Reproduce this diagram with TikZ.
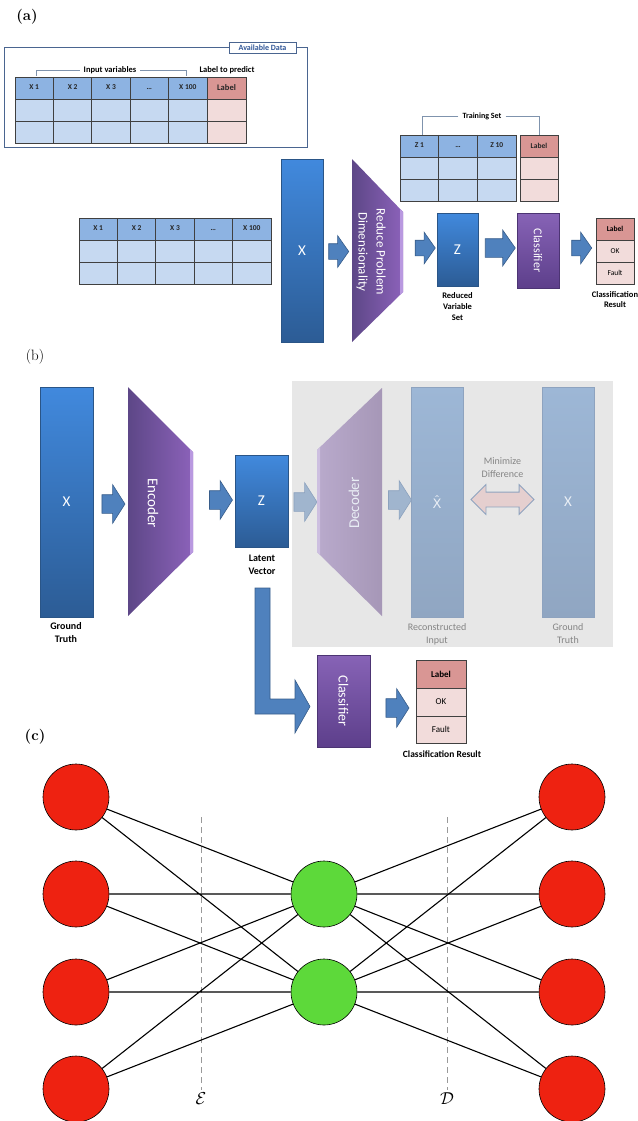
\documentclass[tikz,border=0pt]{standalone}
\usepackage{fontspec}
\newfontfamily\calfont{Carlito}
\newfontfamily\dejafont{DejaVu Sans}
\usetikzlibrary{positioning,shapes.arrows}

% colours
\definecolor{bartop}{HTML}{4189DD}
\definecolor{barbot}{HTML}{2C5C95}
\definecolor{barline}{HTML}{2A5587}
\definecolor{purleft}{HTML}{5D4787}
\definecolor{purright}{HTML}{8C62BA}
\definecolor{puredge}{HTML}{B999E0}
\definecolor{purtop}{HTML}{8763B6}
\definecolor{purbot}{HTML}{5D3F8B}
\definecolor{purline}{HTML}{4C3473}
\definecolor{arrfill}{HTML}{4F81BD}
\definecolor{arrline}{HTML}{385D8A}
\definecolor{hdrblue}{HTML}{8DB3E2}
\definecolor{bodyblue}{HTML}{C6D9F1}
\definecolor{hdrred}{HTML}{D99694}
\definecolor{bodyred}{HTML}{F2DCDB}
\definecolor{frameblue}{HTML}{4A6590}
\definecolor{tagblue}{HTML}{2F5597}
\definecolor{bracketgray}{HTML}{7F93AD}
\definecolor{panelgray}{HTML}{E7E7E7}
\definecolor{fadetop}{HTML}{9DB7D6}
\definecolor{fadebot}{HTML}{90A6C2}
\definecolor{fadeline}{HTML}{8EA3BF}
\definecolor{fadetext}{HTML}{E9EEF5}
\definecolor{fadearrow}{HTML}{A0B5CE}
\definecolor{fadearrline}{HTML}{8CA2BE}
\definecolor{fadepurl}{HTML}{B9AACC}
\definecolor{fadepurr}{HTML}{A697B7}
\definecolor{fadepuredge}{HTML}{CDBFE0}
\definecolor{diffpink}{HTML}{E5CFCF}
\definecolor{graytext}{HTML}{858585}
\definecolor{nodered}{HTML}{EE2211}
\definecolor{nodegreen}{HTML}{5DD93A}

\tikzset{
  panel/.style={font=\fontsize{15}{15}\selectfont\bfseries},
  bar/.style={top color=bartop, bottom color=barbot, draw=barline, line width=0.5pt,
    text=white, font=\calfont\fontsize{15}{15}\selectfont},
  fadebar/.style={top color=fadetop, bottom color=fadebot, draw=fadeline, line width=0.5pt,
    text=fadetext, font=\calfont\fontsize{15}{15}\selectfont},
  classbox/.style={top color=purtop, bottom color=purbot, draw=purline, line width=0.5pt},
  boxtext/.style={text=white, font=\calfont\fontsize{#1}{#1}\selectfont},
  blockarrow/.style={single arrow, fill=arrfill, draw=arrline, line width=0.6pt,
    inner xsep=0pt, inner ysep=7.5pt, single arrow head extend=8pt,
    single arrow tip angle=110, minimum height=20pt},
  bigarrow/.style={blockarrow, inner ysep=9pt, single arrow head extend=10pt,
    single arrow tip angle=115, minimum height=23pt},
  fadearrow/.style={bigarrow, fill=fadearrow, draw=fadearrline},
  cell/.style={draw=black!75, line width=0.7pt},
  cellhead/.style={font=\calfont\bfseries\fontsize{7.5}{8}\selectfont, text=black!85},
  rescell/.style={draw=black!75, line width=0.7pt, fill=bodyred, outer sep=0pt,
    font=\calfont\fontsize{#1}{#1}\selectfont},
  bracket/.style={draw=bracketgray, line width=0.6pt},
  captionbold/.style={font=\calfont\bfseries\fontsize{#1}{#1}\selectfont, align=center},
  captiongray/.style={font=\calfont\fontsize{10}{13}\selectfont, align=center, text=graytext},
  neuron/.style={circle, draw=black, line width=0.6pt, minimum size=66pt, inner sep=0pt},
  link/.style={line width=1.1pt},
  sep/.style={draw=black!40, line width=0.8pt, dash pattern=on 6pt off 4pt}
}

\begin{document}
\begin{tikzpicture}[x=1pt, y=-1pt]
    \useasboundingbox (0,0) rectangle (637,1121);

    % (a) dimensionality reduction
    \node[panel] (pa) at (27,17) {(a)};
    \draw[draw=frameblue, line width=1pt] (4,48) rectangle (307,147);
    \node[draw=frameblue, fill=white, line width=0.7pt, minimum width=67pt, minimum height=11pt,
      inner sep=0pt, text=tagblue, font=\calfont\bfseries\fontsize{8}{8}\selectfont]
      (avail) at (262.5,48) {Available Data};
    \fill[hdrblue] (15,77) rectangle (207,99);
    \fill[bodyblue] (15,99) rectangle (207,143);
    \fill[hdrred] (207,77) rectangle (246,99);
    \fill[bodyred] (207,99) rectangle (246,143);
    \draw[cell] (15,77) rectangle (246,143) (15,99) -- (246,99) (15,121) -- (246,121);
    \draw[cell] (53.4,77) -- (53.4,143) (91.8,77) -- (91.8,143) (130.2,77) -- (130.2,143)
      (168.6,77) -- (168.6,143) (207,77) -- (207,143);
    \node[cellhead] (ax1) at (34.2,87.5) {X 1};
    \node[cellhead] (ax2) at (72.6,87.5) {X 2};
    \node[cellhead] (ax3) at (111,87.5) {X 3};
    \node[cellhead] (axd) at (149.4,88.5) {\ldots};
    \node[cellhead] (ax100) at (187.8,87.5) {X 100};
    \node[cellhead, font=\calfont\bfseries\fontsize{8.5}{8.5}\selectfont] (alab) at (226.5,88) {Label};
    \node[captionbold=8.5, inner sep=4pt] (inputs) at (110,70) {Input variables};
    \draw[bracket] (inputs.west) -| (36,76);
    \draw[bracket] (inputs.east) -| (186,76);
    \node[captionbold=8.5] (topredict) at (227,70) {Label to predict};

    % input table and pipeline
    \fill[hdrblue] (79,218) rectangle (271,240);
    \fill[bodyblue] (79,240) rectangle (271,284);
    \draw[cell] (79,218) rectangle (271,284) (79,240) -- (271,240) (79,262) -- (271,262);
    \draw[cell] (117.4,218) -- (117.4,284) (155.8,218) -- (155.8,284) (194.2,218) -- (194.2,284)
      (232.6,218) -- (232.6,284);
    \node[cellhead] (bx1) at (98.2,228.5) {X 1};
    \node[cellhead] (bx2) at (136.6,228.5) {X 2};
    \node[cellhead] (bx3) at (175,228.5) {X 3};
    \node[cellhead] (bxd) at (213.4,229.5) {\ldots};
    \node[cellhead] (bx100) at (251.8,228.5) {X 100};

    \node[bar, minimum width=42pt, minimum height=183pt] (xa) at (302,250.5) {X};
    \node[blockarrow] (arra1) at (336,251.5) {};
    \shade[left color=purleft, right color=purright] (352,159) -- (403,212) -- (403,292) -- (352,342) -- cycle;
    \fill[puredge] (400,209) -- (403,212) -- (403,292) -- (400,295) -- cycle;
    \node[boxtext=13, rotate=-90, align=center, font=\calfont\fontsize{13}{18}\selectfont]
      (reduce) at (371,252) {Reduce Problem\\Dimensionality};
    \node[blockarrow] (arra2) at (422.5,248) {};
    \node[bar, minimum width=41pt, minimum height=73pt] (za) at (457.5,249.5) {Z};
    \node[captionbold=9, font=\calfont\bfseries\fontsize{8.5}{11}\selectfont]
      (reduced) at (457.5,307) {Reduced\\Variable\\Set};
    \node[blockarrow, inner ysep=9pt, single arrow head extend=8.5pt, minimum height=30pt] (arra3) at (497,248) {};
    \node[classbox, minimum width=42pt, minimum height=75pt] (clsa) at (538,250.5) {};
    \node[boxtext=12, rotate=-90] (clsatext) at (clsa) {Classifier};
    \node[blockarrow] (arra4) at (579,248) {};
    \node[rescell=7.5, fill=hdrred, font=\calfont\bfseries\fontsize{7.5}{8}\selectfont,
      minimum width=38pt, minimum height=22pt] (resalab) at (615,229) {Label};
    \node[rescell=7.5, minimum width=38pt, minimum height=22pt, below=0pt of resalab] (resaok) {OK};
    \node[rescell=7.5, minimum width=38pt, minimum height=22pt, below=0pt of resaok] (resafault) {Fault};
    \node[captionbold=8.5, font=\calfont\bfseries\fontsize{8.5}{10.5}\selectfont]
      (resacap) at (615,299.5) {Classification\\Result};

    % training set
    \fill[hdrblue] (400,135) rectangle (516,157);
    \fill[bodyblue] (400,157) rectangle (516,201);
    \draw[cell] (400,135) rectangle (516,201) (400,157) -- (516,157) (400,179) -- (516,179);
    \draw[cell] (438.7,135) -- (438.7,201) (477.3,135) -- (477.3,201);
    \fill[hdrred] (520,135) rectangle (558,157);
    \fill[bodyred] (520,157) rectangle (558,201);
    \draw[cell] (520,135) rectangle (558,201) (520,157) -- (558,157) (520,179) -- (558,179);
    \node[cellhead] (tz1) at (419.3,145.5) {Z 1};
    \node[cellhead] (tzd) at (458,146.5) {\ldots};
    \node[cellhead] (tz10) at (496.7,145.5) {Z 10};
    \node[cellhead] (tlab) at (539,145.5) {Label};
    \node[captionbold=8, inner sep=4pt] (trainset) at (482,116) {Training Set};
    \draw[bracket] (trainset.west) -| (422,135);
    \draw[bracket] (trainset.east) -| (539,135);

    % (b) autoencoder
    \node[panel, font=\fontsize{15}{15}\selectfont] (pb) at (35,357) {(b)};
    \fill[panelgray] (292,381) rectangle (613,647);
    \node[bar, minimum width=53pt, minimum height=230pt] (xb) at (66.5,502) {X};
    \node[captionbold=10, font=\calfont\bfseries\fontsize{10}{13}\selectfont] (gtb) at (66,632.5) {Ground\\Truth};
    \node[bigarrow] (arrb1) at (110.5,504) {};
    \shade[left color=purleft, right color=purright] (128,387) -- (193,452) -- (193,552) -- (128,616) -- cycle;
    \fill[puredge] (190,449) -- (193,452) -- (193,552) -- (190,555) -- cycle;
    \node[boxtext=15, rotate=-90] (enc) at (153,503) {Encoder};
    \node[bigarrow] (arrb2) at (218,500) {};
    \node[bar, minimum width=53pt, minimum height=92pt] (zb) at (261.5,501) {Z};
    \node[captionbold=10, font=\calfont\bfseries\fontsize{10}{13}\selectfont] (latent) at (262,565) {Latent\\Vector};
    \node[fadearrow] (arrb3) at (302.5,502) {};
    \shade[left color=fadepurl, right color=fadepurr] (317,450) -- (382,388) -- (382,616) -- (317,552) -- cycle;
    \fill[fadepuredge] (317,450) -- (320,447) -- (320,555) -- (317,552) -- cycle;
    \node[boxtext=15, rotate=90, text=fadetext] (dec) at (354,503) {Decoder};
    \node[fadearrow] (arrb4) at (397,500) {};
    \node[fadebar, minimum width=52pt, minimum height=230pt, font=\dejafont\fontsize{13}{13}\selectfont]
      (xhat) at (437,502) {X̂};
    \node[captiongray] (recon) at (437,634) {Reconstructed\\Input};
    \node[fadebar, minimum width=52pt, minimum height=230pt] (xgt) at (568,502) {X};
    \node[captiongray] (gtgray) at (568,634) {Ground\\Truth};
    \node[double arrow, fill=diffpink, draw=fadeline, line width=0.8pt, inner xsep=0pt, inner ysep=7pt,
      double arrow head extend=7.5pt, minimum height=63pt] (diff) at (502.5,499.5) {};
    \node[captiongray] (minimize) at (502.5,467.5) {Minimize\\Difference};

    % latent vector to classifier
    \draw[fill=arrfill, draw=arrline, line width=0.6pt] (255,588) -- (270,588) -- (270,699) -- (295,699)
      -- (295,680) -- (310,706.5) -- (295,733) -- (295,714) -- (255,714) -- cycle;
    \node[classbox, minimum width=53pt, minimum height=92pt] (clsb) at (343.5,701) {};
    \node[boxtext=14, rotate=-90] (clsbtext) at (clsb) {Classifier};
    \node[bigarrow] (arrb5) at (394.5,708) {};
    \node[rescell=9, fill=hdrred, font=\calfont\bfseries\fontsize{9}{9}\selectfont,
      minimum width=50pt, minimum height=28pt] (resblab) at (441,674) {Label};
    \node[rescell=9, minimum width=50pt, minimum height=28pt, below=0pt of resblab] (resbok) {OK};
    \node[rescell=9, minimum width=50pt, minimum height=27pt, below=0pt of resbok] (resbfault) {Fault};
    \begin{scope}
      \clip (380,740) rectangle (500,757);
      \node[captionbold=9.5] (resbcap) at (442,754.5) {Classification Result};
    \end{scope}

    % (c) network
    \node[panel] (pc) at (35,737) {(c)};
    \coordinate (enctop) at (201,817);
    \coordinate (dectop) at (447,817);
    \node[font=\fontsize{17}{17}\selectfont] (elabel) at (201,1099) {$\mathcal{E}$};
    \node[font=\fontsize{17}{17}\selectfont] (dlabel) at (447,1099) {$\mathcal{D}$};
    \draw[sep] (enctop) -- (elabel);
    \draw[sep] (dectop) -- (dlabel);
    \node[neuron, fill=nodered] (in1) at (76,797) {};
    \node[neuron, fill=nodered] (in2) at (76,894) {};
    \node[neuron, fill=nodered] (in3) at (76,992) {};
    \node[neuron, fill=nodered] (in4) at (76,1089) {};
    \node[neuron, fill=nodegreen] (hid1) at (324,894) {};
    \node[neuron, fill=nodegreen] (hid2) at (324,992) {};
    \node[neuron, fill=nodered] (out1) at (572,797) {};
    \node[neuron, fill=nodered] (out2) at (572,894) {};
    \node[neuron, fill=nodered] (out3) at (572,992) {};
    \node[neuron, fill=nodered] (out4) at (572,1089) {};
    \draw[link] (in1) -- (hid1) (in1) -- (hid2) (in2) -- (hid1) (in2) -- (hid2);
    \draw[link] (in3) -- (hid1) (in3) -- (hid2) (in4) -- (hid1) (in4) -- (hid2);
    \draw[link] (hid1) -- (out1) (hid1) -- (out2) (hid1) -- (out3) (hid1) -- (out4);
    \draw[link] (hid2) -- (out1) (hid2) -- (out2) (hid2) -- (out3) (hid2) -- (out4);
\end{tikzpicture}
\end{document}
